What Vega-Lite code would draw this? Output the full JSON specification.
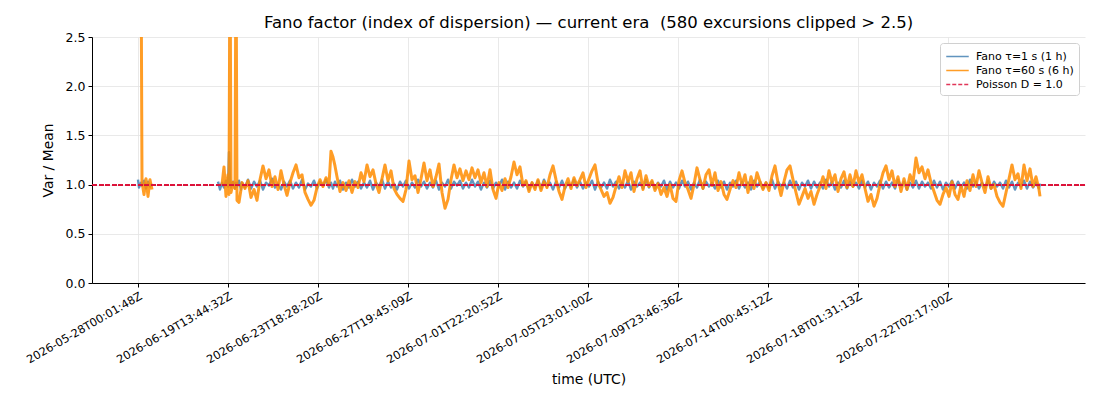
{
  "$schema": "https://vega.github.io/schema/vega-lite/v6.json",
  "width": 993,
  "height": 246,
  "autosize": {"type": "none"},
  "padding": {"left": 92, "top": 37, "right": 15, "bottom": 117},
  "background": "white",
  "title": {
    "text": "Fano factor (index of dispersion) — current era \u00a0(580 excursions clipped > 2.5)",
    "font": "DejaVu Sans",
    "fontSize": 16.5,
    "fontWeight": "normal",
    "color": "black",
    "anchor": "middle",
    "offset": 0
  },
  "config": {
    "view": {"stroke": null},
    "axis": {
      "labelFont": "DejaVu Sans",
      "titleFont": "DejaVu Sans",
      "titleFontWeight": "normal",
      "titleFontSize": 13.9,
      "titleColor": "black",
      "labelColor": "black",
      "domainColor": "black",
      "tickColor": "black",
      "gridColor": "#e3e3e3",
      "gridWidth": 0.8,
      "tickSize": 4,
      "labelPadding": 3
    }
  },
  "data": {
    "values": [
      {"g": 1, "x": 0, "b": 1.05, "o": null},
      {"g": 1, "x": 1, "b": 0.97, "o": null},
      {"g": 1, "x": 3, "b": 1.02, "o": 3.5},
      {"g": 1, "x": 4, "b": 0.99, "o": 1.03},
      {"g": 1, "x": 6, "b": 1.04, "o": 0.9},
      {"g": 1, "x": 8, "b": 0.96, "o": 1.06},
      {"g": 1, "x": 10, "b": 1.03, "o": 0.88},
      {"g": 1, "x": 12, "b": 0.98, "o": 1.05},
      {"g": 1, "x": 14, "b": 1.01, "o": 0.95},
      {"g": 2, "x": 80, "b": 1.03, "o": null},
      {"g": 2, "x": 82, "b": 0.95, "o": null},
      {"g": 2, "x": 84, "b": 1.02, "o": 1.0},
      {"g": 2, "x": 86, "b": 0.97, "o": 1.18},
      {"g": 2, "x": 88, "b": 1.04, "o": 0.88},
      {"g": 2, "x": 90, "b": 0.98, "o": 1.1},
      {"g": 2, "x": 91, "b": 1.33, "o": 0.9},
      {"g": 2, "x": 92, "b": 1.05, "o": 3.5},
      {"g": 2, "x": 93, "b": 0.97, "o": 0.92},
      {"g": 2, "x": 95, "b": 1.03, "o": 1.02},
      {"g": 2, "x": 97, "b": 0.96, "o": 0.96},
      {"g": 2, "x": 98, "b": 1.02, "o": 3.5},
      {"g": 2, "x": 99, "b": 0.98, "o": 0.84},
      {"g": 2, "x": 101, "b": 1.04, "o": 0.82},
      {"g": 2, "x": 103, "b": 0.95, "o": 0.95},
      {"g": 2, "x": 104, "b": 1.02, "o": 1.02},
      {"g": 2, "x": 107, "b": 0.97, "o": 0.96},
      {"g": 2, "x": 110, "b": 1.05, "o": 1.04},
      {"g": 2, "x": 113, "b": 0.96, "o": 0.87},
      {"g": 2, "x": 116, "b": 1.03, "o": 0.95},
      {"g": 2, "x": 119, "b": 0.98, "o": 0.84},
      {"g": 2, "x": 122, "b": 1.04, "o": 1.05},
      {"g": 2, "x": 125, "b": 0.95, "o": 1.19},
      {"g": 2, "x": 128, "b": 1.02, "o": 1.06},
      {"g": 2, "x": 131, "b": 0.99, "o": 1.15},
      {"g": 2, "x": 134, "b": 1.06, "o": 0.98},
      {"g": 2, "x": 137, "b": 0.97, "o": 1.08},
      {"g": 2, "x": 140, "b": 1.01, "o": 0.95},
      {"g": 2, "x": 143, "b": 0.95, "o": 1.14},
      {"g": 2, "x": 146, "b": 1.03, "o": 1.0},
      {"g": 2, "x": 149, "b": 0.98, "o": 0.89},
      {"g": 2, "x": 152, "b": 1.04, "o": 1.02},
      {"g": 2, "x": 155, "b": 0.96, "o": 1.12},
      {"g": 2, "x": 158, "b": 1.02, "o": 1.2},
      {"g": 2, "x": 161, "b": 0.97, "o": 1.07},
      {"g": 2, "x": 164, "b": 1.05, "o": 1.1},
      {"g": 2, "x": 167, "b": 0.95, "o": 0.92},
      {"g": 2, "x": 170, "b": 1.01, "o": 0.85},
      {"g": 2, "x": 173, "b": 0.98, "o": 0.79},
      {"g": 2, "x": 176, "b": 1.04, "o": 0.84},
      {"g": 2, "x": 179, "b": 0.96, "o": 0.97},
      {"g": 2, "x": 182, "b": 1.03, "o": 1.05},
      {"g": 2, "x": 185, "b": 0.99, "o": 0.98},
      {"g": 2, "x": 188, "b": 1.05, "o": 1.07},
      {"g": 2, "x": 191, "b": 0.97, "o": 1.0},
      {"g": 2, "x": 193, "b": 1.02, "o": 1.34},
      {"g": 2, "x": 195, "b": 0.96, "o": 1.28},
      {"g": 2, "x": 197, "b": 1.03, "o": 1.19},
      {"g": 2, "x": 199, "b": 0.98, "o": 1.08},
      {"g": 2, "x": 202, "b": 1.04, "o": 0.93},
      {"g": 2, "x": 205, "b": 0.95, "o": 1.02},
      {"g": 2, "x": 208, "b": 1.02, "o": 0.94},
      {"g": 2, "x": 211, "b": 0.97, "o": 1.04},
      {"g": 2, "x": 214, "b": 1.05, "o": 0.92},
      {"g": 2, "x": 217, "b": 0.98, "o": 1.03},
      {"g": 2, "x": 220, "b": 1.03, "o": 0.97},
      {"g": 2, "x": 223, "b": 0.96, "o": 1.12},
      {"g": 2, "x": 226, "b": 1.02, "o": 1.03},
      {"g": 2, "x": 229, "b": 0.97, "o": 1.2},
      {"g": 2, "x": 232, "b": 1.04, "o": 1.08},
      {"g": 2, "x": 235, "b": 0.95, "o": 1.15},
      {"g": 2, "x": 238, "b": 1.02, "o": 1.01},
      {"g": 2, "x": 241, "b": 0.98, "o": 0.92},
      {"g": 2, "x": 244, "b": 1.05, "o": 1.06},
      {"g": 2, "x": 247, "b": 0.96, "o": 1.2},
      {"g": 2, "x": 250, "b": 1.03, "o": 1.04},
      {"g": 2, "x": 253, "b": 0.97, "o": 1.14},
      {"g": 2, "x": 256, "b": 1.01, "o": 0.96},
      {"g": 2, "x": 259, "b": 0.95, "o": 0.9},
      {"g": 2, "x": 262, "b": 1.03, "o": 0.86},
      {"g": 2, "x": 265, "b": 0.98, "o": 0.83},
      {"g": 2, "x": 268, "b": 1.04, "o": 0.95},
      {"g": 2, "x": 271, "b": 0.96, "o": 1.24},
      {"g": 2, "x": 274, "b": 1.02, "o": 1.05},
      {"g": 2, "x": 277, "b": 0.97, "o": 1.09},
      {"g": 2, "x": 280, "b": 1.05, "o": 0.92},
      {"g": 2, "x": 283, "b": 0.98, "o": 1.06},
      {"g": 2, "x": 286, "b": 1.03, "o": 1.22},
      {"g": 2, "x": 289, "b": 0.96, "o": 1.04},
      {"g": 2, "x": 292, "b": 1.02, "o": 1.15},
      {"g": 2, "x": 295, "b": 0.97, "o": 0.98},
      {"g": 2, "x": 298, "b": 1.04, "o": 1.08},
      {"g": 2, "x": 301, "b": 0.95, "o": 1.21},
      {"g": 2, "x": 304, "b": 1.02, "o": 0.92},
      {"g": 2, "x": 307, "b": 0.98, "o": 0.76},
      {"g": 2, "x": 310, "b": 1.05, "o": 0.85},
      {"g": 2, "x": 313, "b": 0.96, "o": 1.05},
      {"g": 2, "x": 316, "b": 1.03, "o": 1.2},
      {"g": 2, "x": 319, "b": 0.99, "o": 1.07},
      {"g": 2, "x": 322, "b": 1.04, "o": 1.16},
      {"g": 2, "x": 325, "b": 0.96, "o": 1.04},
      {"g": 2, "x": 328, "b": 1.02, "o": 1.14},
      {"g": 2, "x": 331, "b": 0.97, "o": 1.05},
      {"g": 2, "x": 334, "b": 1.05, "o": 1.17},
      {"g": 2, "x": 337, "b": 0.98, "o": 1.07},
      {"g": 2, "x": 340, "b": 1.03, "o": 1.15},
      {"g": 2, "x": 343, "b": 0.95, "o": 1.02},
      {"g": 2, "x": 346, "b": 1.02, "o": 1.12},
      {"g": 2, "x": 349, "b": 0.97, "o": 0.98},
      {"g": 2, "x": 352, "b": 1.04, "o": 1.15},
      {"g": 2, "x": 355, "b": 0.96, "o": 0.95},
      {"g": 2, "x": 358, "b": 1.02, "o": 0.86},
      {"g": 2, "x": 361, "b": 0.98, "o": 1.02},
      {"g": 2, "x": 364, "b": 1.05, "o": 0.94},
      {"g": 2, "x": 367, "b": 0.95, "o": 1.06},
      {"g": 2, "x": 370, "b": 1.03, "o": 0.97},
      {"g": 2, "x": 373, "b": 0.97, "o": 1.08},
      {"g": 2, "x": 376, "b": 1.02, "o": 1.23},
      {"g": 2, "x": 379, "b": 0.96, "o": 1.1},
      {"g": 2, "x": 382, "b": 1.04, "o": 1.18},
      {"g": 2, "x": 385, "b": 0.98, "o": 0.99},
      {"g": 2, "x": 388, "b": 1.03, "o": 1.04},
      {"g": 2, "x": 391, "b": 0.95, "o": 0.93},
      {"g": 2, "x": 394, "b": 1.02, "o": 1.02},
      {"g": 2, "x": 397, "b": 0.97, "o": 0.95},
      {"g": 2, "x": 400, "b": 1.04, "o": 1.05},
      {"g": 2, "x": 403, "b": 0.96, "o": 0.94},
      {"g": 2, "x": 406, "b": 1.05, "o": 1.03},
      {"g": 2, "x": 409, "b": 0.98, "o": 0.97},
      {"g": 2, "x": 412, "b": 1.02, "o": 1.1},
      {"g": 2, "x": 415, "b": 0.95, "o": 1.19},
      {"g": 2, "x": 418, "b": 1.03, "o": 1.05},
      {"g": 2, "x": 421, "b": 0.97, "o": 0.93},
      {"g": 2, "x": 424, "b": 1.04, "o": 0.85},
      {"g": 2, "x": 427, "b": 0.96, "o": 0.98},
      {"g": 2, "x": 430, "b": 1.02, "o": 1.06},
      {"g": 2, "x": 433, "b": 0.98, "o": 0.96},
      {"g": 2, "x": 436, "b": 1.05, "o": 1.07},
      {"g": 2, "x": 439, "b": 0.97, "o": 0.99},
      {"g": 2, "x": 442, "b": 1.03, "o": 1.05},
      {"g": 2, "x": 445, "b": 0.96, "o": 1.12},
      {"g": 2, "x": 448, "b": 1.02, "o": 0.97},
      {"g": 2, "x": 451, "b": 0.98, "o": 1.06},
      {"g": 2, "x": 454, "b": 1.04, "o": 1.14},
      {"g": 2, "x": 457, "b": 0.95, "o": 1.2},
      {"g": 2, "x": 460, "b": 1.03, "o": 1.02},
      {"g": 2, "x": 463, "b": 0.97, "o": 0.95},
      {"g": 2, "x": 466, "b": 1.02, "o": 0.88},
      {"g": 2, "x": 469, "b": 0.96, "o": 0.92},
      {"g": 2, "x": 472, "b": 1.05, "o": 0.81},
      {"g": 2, "x": 475, "b": 0.98, "o": 0.87},
      {"g": 2, "x": 478, "b": 1.03, "o": 0.98},
      {"g": 2, "x": 481, "b": 0.96, "o": 1.08},
      {"g": 2, "x": 484, "b": 1.02, "o": 0.97},
      {"g": 2, "x": 487, "b": 0.97, "o": 1.14},
      {"g": 2, "x": 490, "b": 1.04, "o": 1.03},
      {"g": 2, "x": 493, "b": 0.95, "o": 1.12},
      {"g": 2, "x": 496, "b": 1.03, "o": 0.93},
      {"g": 2, "x": 499, "b": 0.98, "o": 1.06},
      {"g": 2, "x": 502, "b": 1.02, "o": 1.14},
      {"g": 2, "x": 505, "b": 0.96, "o": 0.95},
      {"g": 2, "x": 508, "b": 1.05, "o": 1.09},
      {"g": 2, "x": 511, "b": 0.97, "o": 0.98},
      {"g": 2, "x": 514, "b": 1.03, "o": 1.04},
      {"g": 2, "x": 517, "b": 0.96, "o": 0.94},
      {"g": 2, "x": 520, "b": 1.02, "o": 1.01},
      {"g": 2, "x": 523, "b": 0.98, "o": 0.9},
      {"g": 2, "x": 526, "b": 1.04, "o": 0.97},
      {"g": 2, "x": 529, "b": 0.95, "o": 0.88},
      {"g": 2, "x": 532, "b": 1.03, "o": 1.0},
      {"g": 2, "x": 535, "b": 0.97, "o": 0.86},
      {"g": 2, "x": 538, "b": 1.02, "o": 0.83},
      {"g": 2, "x": 541, "b": 0.96, "o": 1.04},
      {"g": 2, "x": 544, "b": 1.04, "o": 1.14},
      {"g": 2, "x": 547, "b": 0.98, "o": 1.02},
      {"g": 2, "x": 550, "b": 1.03, "o": 0.95},
      {"g": 2, "x": 553, "b": 0.95, "o": 0.86},
      {"g": 2, "x": 556, "b": 1.02, "o": 1.0},
      {"g": 2, "x": 559, "b": 0.97, "o": 1.17},
      {"g": 2, "x": 562, "b": 1.05, "o": 1.05},
      {"g": 2, "x": 565, "b": 0.96, "o": 0.96},
      {"g": 2, "x": 568, "b": 1.03, "o": 1.1},
      {"g": 2, "x": 571, "b": 0.98, "o": 1.15},
      {"g": 2, "x": 574, "b": 1.02, "o": 0.99},
      {"g": 2, "x": 577, "b": 0.96, "o": 1.12},
      {"g": 2, "x": 580, "b": 1.04, "o": 0.94},
      {"g": 2, "x": 583, "b": 0.97, "o": 1.03},
      {"g": 2, "x": 586, "b": 1.03, "o": 0.9},
      {"g": 2, "x": 589, "b": 0.95, "o": 0.85},
      {"g": 2, "x": 592, "b": 1.02, "o": 0.95},
      {"g": 2, "x": 595, "b": 0.98, "o": 1.04},
      {"g": 2, "x": 598, "b": 1.04, "o": 0.97},
      {"g": 2, "x": 601, "b": 0.96, "o": 1.12},
      {"g": 2, "x": 604, "b": 1.03, "o": 1.0},
      {"g": 2, "x": 607, "b": 0.97, "o": 1.1},
      {"g": 2, "x": 610, "b": 1.02, "o": 0.92},
      {"g": 2, "x": 613, "b": 0.95, "o": 1.08},
      {"g": 2, "x": 616, "b": 1.04, "o": 0.96},
      {"g": 2, "x": 619, "b": 0.98, "o": 1.12},
      {"g": 2, "x": 622, "b": 1.03, "o": 1.03},
      {"g": 2, "x": 625, "b": 0.96, "o": 0.95},
      {"g": 2, "x": 628, "b": 1.02, "o": 1.02},
      {"g": 2, "x": 631, "b": 0.97, "o": 0.94},
      {"g": 2, "x": 634, "b": 1.05, "o": 1.09},
      {"g": 2, "x": 637, "b": 0.96, "o": 1.19},
      {"g": 2, "x": 640, "b": 1.03, "o": 1.02},
      {"g": 2, "x": 643, "b": 0.98, "o": 0.89},
      {"g": 2, "x": 646, "b": 1.02, "o": 1.03},
      {"g": 2, "x": 649, "b": 0.96, "o": 1.15},
      {"g": 2, "x": 652, "b": 1.04, "o": 1.19},
      {"g": 2, "x": 655, "b": 0.97, "o": 1.05},
      {"g": 2, "x": 658, "b": 1.03, "o": 0.92},
      {"g": 2, "x": 661, "b": 0.95, "o": 0.8},
      {"g": 2, "x": 664, "b": 1.02, "o": 0.88},
      {"g": 2, "x": 667, "b": 0.98, "o": 0.96},
      {"g": 2, "x": 670, "b": 1.04, "o": 0.86},
      {"g": 2, "x": 673, "b": 0.96, "o": 0.93},
      {"g": 2, "x": 676, "b": 1.03, "o": 0.8},
      {"g": 2, "x": 679, "b": 0.97, "o": 0.9},
      {"g": 2, "x": 682, "b": 1.02, "o": 0.98},
      {"g": 2, "x": 685, "b": 0.96, "o": 1.08},
      {"g": 2, "x": 688, "b": 1.05, "o": 0.96},
      {"g": 2, "x": 691, "b": 0.98, "o": 1.14},
      {"g": 2, "x": 694, "b": 1.03, "o": 1.02},
      {"g": 2, "x": 697, "b": 0.95, "o": 1.1},
      {"g": 2, "x": 700, "b": 1.02, "o": 0.93},
      {"g": 2, "x": 703, "b": 0.97, "o": 1.06},
      {"g": 2, "x": 706, "b": 1.04, "o": 1.13},
      {"g": 2, "x": 709, "b": 0.96, "o": 0.97},
      {"g": 2, "x": 712, "b": 1.03, "o": 1.1},
      {"g": 2, "x": 715, "b": 0.98, "o": 0.98},
      {"g": 2, "x": 718, "b": 1.02, "o": 1.14},
      {"g": 2, "x": 721, "b": 0.96, "o": 1.02},
      {"g": 2, "x": 724, "b": 1.04, "o": 1.1},
      {"g": 2, "x": 727, "b": 0.97, "o": 0.96},
      {"g": 2, "x": 730, "b": 1.03, "o": 0.83},
      {"g": 2, "x": 733, "b": 0.95, "o": 0.9},
      {"g": 2, "x": 736, "b": 1.02, "o": 0.78},
      {"g": 2, "x": 739, "b": 0.98, "o": 0.86},
      {"g": 2, "x": 742, "b": 1.04, "o": 1.0},
      {"g": 2, "x": 745, "b": 0.96, "o": 1.12},
      {"g": 2, "x": 748, "b": 1.03, "o": 1.19},
      {"g": 2, "x": 751, "b": 0.97, "o": 1.05},
      {"g": 2, "x": 754, "b": 1.02, "o": 1.14},
      {"g": 2, "x": 757, "b": 0.96, "o": 0.98},
      {"g": 2, "x": 760, "b": 1.05, "o": 1.08},
      {"g": 2, "x": 763, "b": 0.98, "o": 0.93},
      {"g": 2, "x": 766, "b": 1.03, "o": 1.06},
      {"g": 2, "x": 769, "b": 0.95, "o": 0.95},
      {"g": 2, "x": 772, "b": 1.02, "o": 1.1},
      {"g": 2, "x": 775, "b": 0.97, "o": 1.02},
      {"g": 2, "x": 778, "b": 1.04, "o": 1.27},
      {"g": 2, "x": 781, "b": 0.96, "o": 1.12},
      {"g": 2, "x": 784, "b": 1.03, "o": 1.18},
      {"g": 2, "x": 787, "b": 0.98, "o": 1.06},
      {"g": 2, "x": 790, "b": 1.02, "o": 1.15},
      {"g": 2, "x": 793, "b": 0.96, "o": 1.02},
      {"g": 2, "x": 796, "b": 1.04, "o": 0.93},
      {"g": 2, "x": 799, "b": 0.97, "o": 0.84},
      {"g": 2, "x": 802, "b": 1.03, "o": 0.8},
      {"g": 2, "x": 805, "b": 0.95, "o": 0.9},
      {"g": 2, "x": 808, "b": 1.02, "o": 0.97},
      {"g": 2, "x": 811, "b": 0.98, "o": 0.88},
      {"g": 2, "x": 814, "b": 1.04, "o": 1.03},
      {"g": 2, "x": 817, "b": 0.96, "o": 0.9},
      {"g": 2, "x": 820, "b": 1.03, "o": 0.85},
      {"g": 2, "x": 823, "b": 0.97, "o": 0.99},
      {"g": 2, "x": 826, "b": 1.02, "o": 0.88},
      {"g": 2, "x": 829, "b": 0.96, "o": 1.04},
      {"g": 2, "x": 832, "b": 1.05, "o": 0.94},
      {"g": 2, "x": 835, "b": 0.98, "o": 1.1},
      {"g": 2, "x": 838, "b": 1.03, "o": 0.98},
      {"g": 2, "x": 841, "b": 0.96, "o": 1.14},
      {"g": 2, "x": 844, "b": 1.02, "o": 1.02},
      {"g": 2, "x": 847, "b": 0.97, "o": 0.92},
      {"g": 2, "x": 850, "b": 1.04, "o": 1.08},
      {"g": 2, "x": 853, "b": 0.96, "o": 0.96},
      {"g": 2, "x": 856, "b": 1.03, "o": 1.0},
      {"g": 2, "x": 859, "b": 0.98, "o": 0.88},
      {"g": 2, "x": 862, "b": 1.02, "o": 0.82},
      {"g": 2, "x": 865, "b": 0.96, "o": 0.78},
      {"g": 2, "x": 868, "b": 1.04, "o": 0.92},
      {"g": 2, "x": 871, "b": 0.97, "o": 1.06},
      {"g": 2, "x": 874, "b": 1.03, "o": 1.2},
      {"g": 2, "x": 877, "b": 0.95, "o": 1.05},
      {"g": 2, "x": 880, "b": 1.02, "o": 1.11},
      {"g": 2, "x": 883, "b": 0.98, "o": 0.96},
      {"g": 2, "x": 886, "b": 1.04, "o": 1.2},
      {"g": 2, "x": 889, "b": 0.96, "o": 1.04},
      {"g": 2, "x": 892, "b": 1.03, "o": 1.16},
      {"g": 2, "x": 895, "b": 0.97, "o": 0.98},
      {"g": 2, "x": 898, "b": 1.02, "o": 1.08},
      {"g": 2, "x": 901, "b": 0.96, "o": 0.95},
      {"g": 2, "x": 902, "b": 1.01, "o": 0.88}
    ]
  },
  "layer": [
    {
      "mark": {"type": "line", "strokeWidth": 2.4, "strokeJoin": "round", "opacity": 0.85, "clip": true},
      "encoding": {
        "x": {
          "field": "x",
          "type": "quantitative",
          "scale": {"domain": [-46, 947], "nice": false, "zero": false},
          "axis": {
            "title": "time (UTC)",
            "values": [0, 90, 180, 270, 360, 450, 540, 630, 720, 810],
            "labelExpr": "['2026-05-28T00:01:48Z','2026-06-19T13:44:32Z','2026-06-23T18:28:20Z','2026-06-27T19:45:09Z','2026-07-01T22:20:52Z','2026-07-05T23:01:00Z','2026-07-09T23:46:36Z','2026-07-14T00:45:12Z','2026-07-18T01:31:13Z','2026-07-22T02:17:00Z'][round(datum.value / 90)]",
            "labelAngle": -30,
            "labelAlign": "right",
            "labelBaseline": "top",
            "labelFontSize": 11.3,
            "labelDx": -5,
            "labelOverlap": false,
            "labelFlush": false,
            "titlePadding": 7,
            "grid": true
          }
        },
        "y": {
          "field": "b",
          "type": "quantitative",
          "scale": {"domain": [0, 2.5], "nice": false},
          "axis": {
            "title": "Var / Mean",
            "values": [0, 0.5, 1, 1.5, 2, 2.5],
            "format": ".1f",
            "labelFontSize": 12.5,
            "titlePadding": 10,
            "grid": true
          }
        },
        "detail": {"field": "g"},
        "color": {
          "datum": "Fano τ=1 s (1 h)",
          "scale": {
            "domain": ["Fano τ=1 s (1 h)", "Fano τ=60 s (6 h)", "Poisson D = 1.0"],
            "range": ["#4682b4", "#ff8c00", "#dc143c"]
          },
          "legend": {
            "title": null,
            "orient": "top-right",
            "offset": 6,
            "padding": 5,
            "fillColor": "white",
            "strokeColor": "#d0d0d0",
            "cornerRadius": 3,
            "symbolType": "M-1.5,0H1.5",
            "symbolSize": 225,
            "symbolOffset": 4,
            "symbolStrokeWidth": 1.5,
            "symbolOpacity": 0.85,
            "labelOffset": 10,
            "labelFont": "DejaVu Sans",
            "labelFontSize": 11,
            "labelColor": "black",
            "rowPadding": 0,
            "encode": {
              "symbols": {
                "update": {
                  "strokeDash": {"signal": "datum.value === 'Poisson D = 1.0' ? [4, 2] : [1, 0]"}
                }
              }
            }
          }
        }
      }
    },
    {
      "transform": [{"filter": "datum.o != null"}],
      "mark": {"type": "line", "strokeWidth": 3.0, "strokeJoin": "round", "opacity": 0.85, "clip": true},
      "encoding": {
        "x": {"field": "x", "type": "quantitative"},
        "y": {"field": "o", "type": "quantitative"},
        "detail": {"field": "g"},
        "color": {"datum": "Fano τ=60 s (6 h)"}
      }
    },
    {
      "mark": {"type": "rule", "strokeWidth": 1.2, "strokeDash": [4.5, 2], "opacity": 0.9},
      "encoding": {
        "y": {"datum": 1},
        "color": {"datum": "Poisson D = 1.0"}
      }
    }
  ]
}
